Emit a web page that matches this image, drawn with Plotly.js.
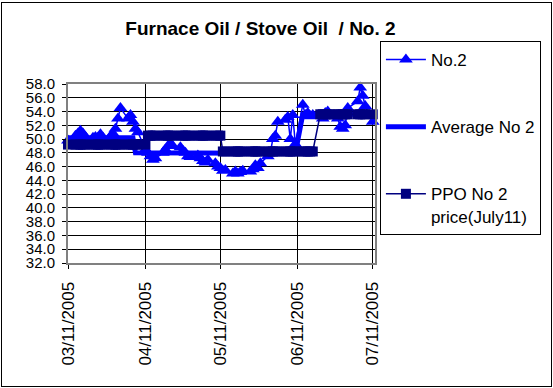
<!DOCTYPE html>
<html>
<head>
<meta charset="utf-8">
<script src="https://cdn.plot.ly/plotly-3.0.1.min.js"></script>
<style>
  html, body { margin: 0; padding: 0; background: #fff; }
  #wrap { position: relative; width: 553px; height: 388px; }
  #chart { width: 553px; height: 388px; }
  #frame { position: absolute; left: 1px; top: 2px; width: 549px; height: 383px; border: 1px solid #000; pointer-events: none; }
</style>
</head>
<body>
<div id="wrap"><div id="chart"></div><div id="frame"></div></div>
<script>
// ---- data ----
const dates = [
  '2005-03-11',
  '2005-03-14','2005-03-15','2005-03-16','2005-03-17','2005-03-18',
  '2005-03-21','2005-03-22','2005-03-23','2005-03-24','2005-03-25',
  '2005-03-28','2005-03-29','2005-03-30','2005-03-31','2005-04-01',
  '2005-04-04','2005-04-05','2005-04-06','2005-04-07','2005-04-08',
  '2005-04-11','2005-04-12','2005-04-13','2005-04-14','2005-04-15',
  '2005-04-18','2005-04-19','2005-04-20','2005-04-21','2005-04-22',
  '2005-04-25','2005-04-26','2005-04-27','2005-04-28','2005-04-29',
  '2005-05-02','2005-05-03','2005-05-04','2005-05-05','2005-05-06',
  '2005-05-09','2005-05-10','2005-05-11','2005-05-12','2005-05-13',
  '2005-05-16','2005-05-17','2005-05-18','2005-05-19','2005-05-20',
  '2005-05-23','2005-05-24','2005-05-25','2005-05-26','2005-05-27',
  '2005-05-30','2005-05-31','2005-06-01','2005-06-02','2005-06-03',
  '2005-06-06','2005-06-07','2005-06-08','2005-06-09','2005-06-10',
  '2005-06-13','2005-06-14','2005-06-15','2005-06-16','2005-06-17',
  '2005-06-20','2005-06-21','2005-06-22','2005-06-23','2005-06-24',
  '2005-06-27','2005-06-28','2005-06-29','2005-06-30','2005-07-01',
  '2005-07-05','2005-07-06','2005-07-07','2005-07-08',
  '2005-07-11'
];

const no2 = [
  49.8,
  50.5, 50.8, 51.2, 50.8, 50.3,
  50.2, 50.3, 50.2, 50.7, 50.2,
  50.4, 50.8, 51.5, 53.0, 54.5,
  53.0, 53.5, 52.5, 51.5, 51.0,
  48.5, 48.0, 47.5, 47.0, 47.2,
  48.0, 48.5, 49.0, 49.3, 49.0,
  48.8, 48.3, 48.0, 47.5, 47.4,
  47.6, 47.2, 46.8, 46.6, 47.0,
  46.5, 46.0, 45.8, 45.4, 45.5,
  45.0, 45.3, 45.0, 45.2, 45.4,
  45.3, 45.6, 46.2, 45.8, 46.5,
  47.5, 48.0, 50.0, 50.5, 52.5,
  52.8, 53.2, 50.0, 53.5, 49.3,
  55.0, 53.5, 53.8, 53.3, 53.5,
  53.5, 53.0, 53.8, 54.0, 53.3,
  53.0, 51.8, 51.5, 52.0, 54.5,
  55.5, 57.5, 56.3, 54.8,
  52.5
];

const avgNo2 = [
  50.2,
  50.2, 50.2, 50.2, 50.2, 50.2,
  50.2, 50.2, 50.2, 50.2, 50.2,
  50.2, 50.2, 50.2, 50.2, 50.2,
  50.2, 50.2, 50.2, 48.0, 48.0,
  48.0, 48.0, 48.0, 48.0, 48.0,
  48.0, 48.0, 48.0, 48.0, 48.0,
  48.0, 48.0, 48.0, 48.0, 48.0,
  48.0, 48.0, 48.0, 48.0, 48.0,
  48.0, 48.0, 48.0, 47.9, 47.9,
  47.9, 47.9, 47.9, 47.9, 47.9,
  47.9, 47.9, 47.9, 47.9, 47.9,
  47.9, 47.9, 47.9, 47.9, 47.9,
  47.9, 47.9, 47.9, 47.9, 47.9,
  53.6, 53.6, 53.6, 53.6, 53.6,
  53.6, 53.6, 53.6, 53.6, 53.6,
  53.6, 53.6, 53.6, 53.6, 53.6,
  53.6, 53.6, 53.6, 53.6,
  53.6
];

const ppoNo2 = [
  49.2,
  49.2, 49.2, 49.2, 49.2, 49.2,
  49.2, 49.2, 49.2, 49.2, 49.2,
  49.2, 49.2, 49.2, 49.2, 49.2,
  49.2, 49.2, 49.2, 49.2, 49.2,
  49.2, 50.5, 50.5, 50.5, 50.5,
  50.5, 50.5, 50.5, 50.5, 50.5,
  50.5, 50.5, 50.5, 50.5, 50.5,
  50.5, 50.5, 50.5, 50.5, 50.5,
  50.5, 50.5, 50.5, 48.2, 48.2,
  48.2, 48.2, 48.2, 48.2, 48.2,
  48.2, 48.2, 48.2, 48.2, 48.2,
  48.2, 48.2, 48.2, 48.2, 48.2,
  48.2, 48.2, 48.2, 48.2, 48.2,
  48.2, 48.2, 48.2, 48.2, 48.2,
  53.6, 53.6, 53.6, 53.6, 53.6,
  53.6, 53.6, 53.6, 53.6, 53.6,
  53.6, 53.6, 53.6, 53.6,
  53.6
];

const seriesNames = ['No.2', 'Average No 2', 'PPO No 2<br>price(July11)'];
const xTickVals = ['2005-03-11', '2005-04-11', '2005-05-11', '2005-06-11', '2005-07-11'];
const xTickText = ['03/11/2005', '04/11/2005', '05/11/2005', '06/11/2005', '07/11/2005'];
const chartTitle = 'Furnace Oil / Stove Oil \u00a0/ No. 2';

// ---- chart ----
const FONT = '"Liberation Sans", Arial, sans-serif';

const traces = [
  {
    x: dates, y: no2, name: seriesNames[0], type: 'scatter', mode: 'lines+markers',
    line: { color: '#0000FF', width: 1.5 },
    marker: { symbol: 'triangle-up', size: 12, color: '#0000FF' },
    cliponaxis: false, legendgroup: 'a'
  },
  {
    x: dates, y: avgNo2, name: seriesNames[1], type: 'scatter', mode: 'lines',
    line: { color: '#0000FF', width: 5 },
    cliponaxis: false, legendgroup: 'b'
  },
  {
    x: dates, y: ppoNo2, name: seriesNames[2], type: 'scatter', mode: 'lines+markers',
    line: { color: '#000080', width: 1.5 },
    marker: { symbol: 'square', size: 10, color: '#000080' },
    cliponaxis: false, legendgroup: 'c'
  }
];

const layout = {
  width: 553, height: 388,
  margin: { l: 68, r: 176, t: 84, b: 125, pad: 0 },
  paper_bgcolor: '#ffffff', plot_bgcolor: '#ffffff',
  font: { family: FONT, color: '#000000', size: 17 },
  showlegend: true,
  title: {
    text: chartTitle,
    font: { family: FONT, size: 19, color: '#000000', weight: 'bold' },
    xref: 'container', yref: 'container',
    x: 0.471, xanchor: 'center', y: 0.928, yanchor: 'middle'
  },
  xaxis: {
    type: 'date',
    range: ['2005-03-11', '2005-07-11 22:00'],
    tickmode: 'array', tickvals: xTickVals, ticktext: xTickText,
    tickangle: -90,
    ticks: 'outside', ticklen: 4, tickcolor: '#000000', tickwidth: 1,
    ticklabelstandoff: 6,
    tickfont: { family: FONT, size: 17, color: '#000000' },
    showgrid: true, gridcolor: '#000000', gridwidth: 1,
    showline: true, linecolor: '#808080', linewidth: 2, mirror: true,
    zeroline: false, fixedrange: true
  },
  yaxis: {
    range: [32, 58],
    tickmode: 'linear', tick0: 32, dtick: 2, tickformat: '.1f',
    ticks: 'outside', ticklen: 4, tickcolor: '#000000', tickwidth: 1,
    ticklabelstandoff: 4,
    tickfont: { family: FONT, size: 15, color: '#000000' },
    showgrid: true, gridcolor: '#000000', gridwidth: 1,
    showline: true, linecolor: '#808080', linewidth: 2, mirror: true,
    zeroline: false, fixedrange: true
  },
  legend: {
    x: 1.016, xanchor: 'left', y: 1.24, yanchor: 'top',
    bgcolor: '#ffffff', bordercolor: '#000000', borderwidth: 1,
    font: { family: FONT, size: 17, color: '#000000' },
    traceorder: 'grouped', tracegroupgap: 42, valign: 'top',
    itemwidth: 40
  }
};

Plotly.newPlot('chart', traces, layout, { staticPlot: true, displayModeBar: false });
</script>
</body>
</html>
